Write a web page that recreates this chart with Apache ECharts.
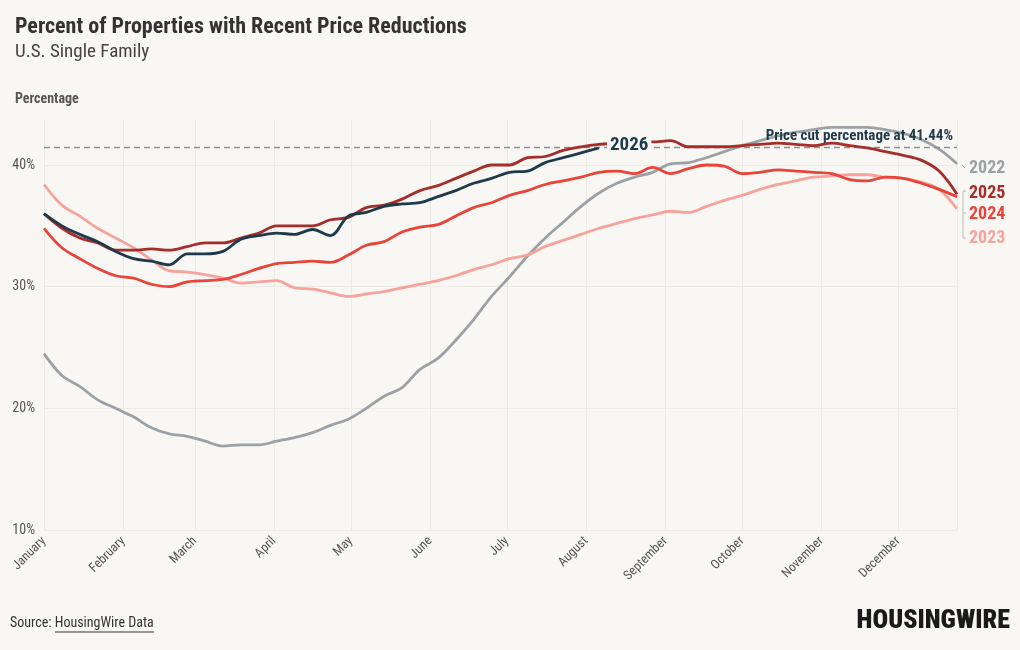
<!DOCTYPE html>
<html><head><meta charset="utf-8">
<script src="https://cdn.jsdelivr.net/npm/echarts@6/dist/echarts.min.js"></script>
<style>html,body{margin:0;padding:0;background:#f8f7f4;} #c{width:1020px;height:650px;}</style>
</head><body><div id="c"></div>
<script>
// weekly observation dates (plotted on a common calendar year)
const weeks = [
 '2023-01-01','2023-01-08','2023-01-15','2023-01-22','2023-01-29','2023-02-05','2023-02-12','2023-02-19','2023-02-26',
 '2023-03-05','2023-03-12','2023-03-19','2023-03-26','2023-04-02','2023-04-09','2023-04-16','2023-04-23','2023-04-30',
 '2023-05-07','2023-05-14','2023-05-21','2023-05-28','2023-06-04','2023-06-11','2023-06-18','2023-06-25','2023-07-02',
 '2023-07-09','2023-07-16','2023-07-23','2023-07-30','2023-08-06','2023-08-13','2023-08-20','2023-08-27','2023-09-03',
 '2023-09-10','2023-09-17','2023-09-24','2023-10-01','2023-10-08','2023-10-15','2023-10-22','2023-10-29','2023-11-05',
 '2023-11-12','2023-11-19','2023-11-26','2023-12-03','2023-12-10','2023-12-17','2023-12-24'
];
const months = ['January','February','March','April','May','June','July','August','September','October','November','December'];

const y2022 = [24.5,22.7,21.8,20.7,20.0,19.3,18.4,17.9,17.7,17.3,16.9,17.0,17.0,17.3,17.6,18.0,18.6,19.1,20.0,21.0,21.7,23.2,24.1,25.6,27.3,29.2,
 30.8,32.5,34.0,35.3,36.6,37.7,38.5,39.0,39.4,40.1,40.2,40.6,41.1,41.6,42.0,42.4,42.7,42.9,43.1,43.1,43.1,42.9,42.6,42.1,41.3,40.1];
const y2023 = [38.4,36.7,35.8,34.8,34.0,33.2,32.2,31.3,31.2,31.0,30.7,30.3,30.4,30.5,29.9,29.8,29.5,29.2,29.4,29.6,29.9,30.2,30.5,30.9,31.4,31.8,
 32.3,32.6,33.3,33.8,34.3,34.8,35.2,35.6,35.9,36.2,36.1,36.6,37.1,37.5,38.0,38.4,38.7,39.0,39.1,39.2,39.2,39.0,38.9,38.6,38.0,36.4];
const y2024 = [34.8,33.2,32.3,31.5,30.9,30.7,30.2,30.0,30.4,30.5,30.6,31.0,31.5,31.9,32.0,32.1,32.0,32.6,33.4,33.7,34.5,34.9,35.1,35.8,36.5,36.9,
 37.5,37.9,38.4,38.7,39.0,39.4,39.5,39.3,39.8,39.3,39.7,40.0,39.9,39.3,39.4,39.6,39.5,39.4,39.3,38.8,38.7,39.0,38.9,38.5,38.0,37.4];
const y2025 = [36.0,34.8,34.0,33.6,33.0,33.0,33.1,33.0,33.3,33.6,33.6,34.0,34.4,35.0,35.0,35.0,35.5,35.7,36.5,36.7,37.2,37.9,38.3,38.9,39.5,40.0,
 40.0,40.6,40.7,41.2,41.5,41.7,41.8,41.9,41.9,42.0,41.5,41.5,41.5,41.6,41.7,41.8,41.7,41.6,41.8,41.6,41.4,41.1,40.8,40.4,39.5,37.6];
const y2026 = [36.0,35.0,34.3,33.7,32.9,32.3,32.1,31.8,32.7,32.7,32.9,33.9,34.2,34.4,34.3,34.7,34.2,35.8,36.1,36.6,36.8,36.9,37.4,37.9,38.5,38.9,
 39.4,39.5,40.2,40.6,41.0,41.4];
const yTicks = [10, 20, 30, 40];
const cutLevel = 41.44;

const seriesNames = ['2022','2023','2024','2025','2026'];
const seriesValues = [y2022, y2023, y2024, y2025, y2026];
const colors = ['#9ca1a6','#f7a39b','#e8443a','#a52d2a','#1e3a4b'];
const labelOffsets = [[0,5],[0,30],[0,18],[0,-1],[0,-3]];

const FONT = "'Roboto Condensed','Liberation Sans Narrow','DejaVu Sans Condensed','Arial Narrow',Roboto,sans-serif";

function pairs(vals){ return vals.map((v,i)=>[weeks[i], v]); }

const series = seriesNames.map((name, i) => {
  const s = {
    name: name, type: 'line', data: pairs(seriesValues[i]),
    showSymbol: false, symbol: 'none', smooth: 0.35,
    lineStyle: { color: colors[i], width: 2.8 },
    itemStyle: { color: colors[i] },
    z: 2 + i,
    endLabel: {
      show: true, formatter: '{a}', color: colors[i], fontFamily: FONT,
      fontWeight: 'bold', fontSize: 18, distance: 12, offset: labelOffsets[i]
    }
  };
  if (name === '2026') {
    s.endLabel.distance = 8;
    s.endLabel.fontSize = 19;
    s.endLabel.backgroundColor = '#f8f7f4';
    s.endLabel.padding = [0, 3, 0, 3];
  }
  if (name === '2022') {
    s.markLine = {
      silent: true, symbol: 'none',
      lineStyle: { color: '#8a8f93', type: [6, 4], width: 1.3 },
      label: {
        position: 'insideEndTop', formatter: 'Price cut percentage at ' + cutLevel + '%',
        color: '#1e3a4b', fontFamily: FONT, fontWeight: 'bold', fontSize: 15, distance: 4
      },
      data: [{ yAxis: cutLevel }]
    };
  }
  return s;
});

const chart = echarts.init(document.getElementById('c'), null, { renderer: 'canvas' });
chart.setOption({
  animation: false,
  backgroundColor: '#f8f7f4',
  textStyle: { fontFamily: FONT },
  title: [
    { text: 'Percent of Properties with Recent Price Reductions', left: 10, top: 11,
      textStyle: { fontFamily: FONT, fontSize: 22, fontWeight: 'bold', color: '#333' },
      subtext: 'U.S. Single Family', itemGap: 5,
      subtextStyle: { fontFamily: FONT, fontSize: 19, color: '#444' } },
    { text: 'Percentage', left: 10, top: 87,
      textStyle: { fontFamily: FONT, fontSize: 14, fontWeight: 'bold', color: '#555' } }
  ],
  grid: { left: 44, right: 63, top: 120, bottom: 120, containLabel: false },
  xAxis: {
    type: 'time', min: weeks[0], max: weeks[weeks.length - 1], splitNumber: 12,
    axisLine: { show: false },
    axisTick: { show: false },
    splitLine: { show: true, lineStyle: { color: '#ecebe6', width: 1 } },
    axisLabel: {
      rotate: 45, color: '#555', fontSize: 13, fontFamily: FONT, margin: 9,
      formatter: (val) => months[new Date(val).getMonth()],
      hideOverlap: false
    }
  },
  yAxis: {
    type: 'value', min: yTicks[0], max: 43.7, interval: 10,
    axisLine: { show: false }, axisTick: { show: false },
    splitLine: { show: true, showMaxLine: false, lineStyle: { color: '#ecebe6', width: 1 } },
    axisLabel: { color: '#555', fontSize: 14, fontFamily: FONT, margin: 9, showMaxLabel: false,
      formatter: '{value}%' }
  },
  graphic: [
    { type: 'text', left: 10, top: 616,
      style: { text: 'Source: HousingWire Data', fill: '#333', font: "14px " + FONT } },
    { type: 'line', shape: { x1: 55, y1: 632, x2: 154, y2: 632 }, style: { stroke: '#333', lineWidth: 1 } },
    { type: 'text', right: 10, top: 608,
      style: { text: 'HOUSINGWIRE', fill: '#1a1a1a', font: "900 26px " + FONT } },
    { type: 'polyline', shape: { points: [[962,165],[965,168]] }, style: { stroke: '#aaa', lineWidth: 1 } },
    { type: 'polyline', shape: { points: [[966,191],[963,191],[963,238],[966,238]] }, style: { stroke: '#bbb', lineWidth: 1, fill: null } },
    { type: 'line', shape: { x1: 963, y1: 213, x2: 966, y2: 213 }, style: { stroke: '#bbb', lineWidth: 1 } }
  ],
  series: series
});
</script>
</body></html>
